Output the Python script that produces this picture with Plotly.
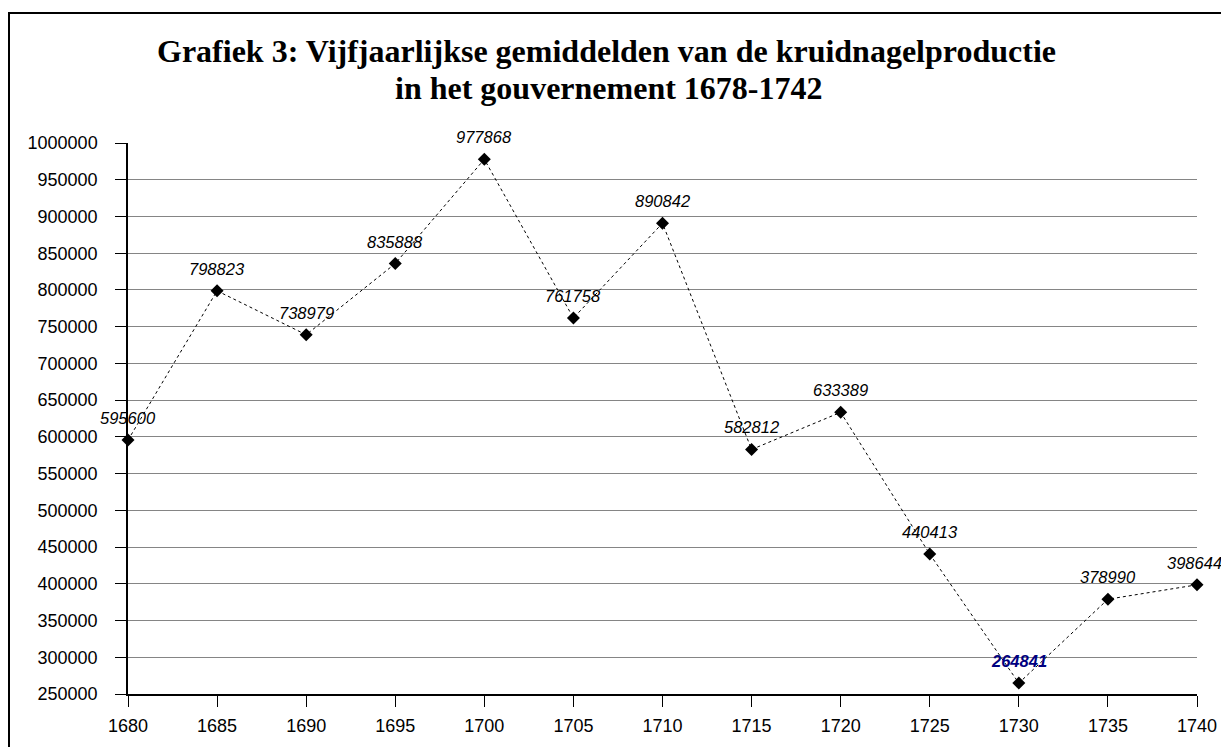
import plotly.graph_objects as go

years = [1680, 1685, 1690, 1695, 1700, 1705, 1710, 1715, 1720, 1725, 1730, 1735, 1740]
production = [595600, 798823, 738979, 835888, 977868, 761758, 890842, 582812, 633389, 440413, 264841, 378990, 398644]
label_colors = ["#000000"] * 10 + ["#000080"] + ["#000000"] * 2
label_bold = [False] * 10 + [True] + [False] * 2
y_ticks = list(range(250000, 1000001, 50000))
x_ticks = list(range(1680, 1741, 5))

title_lines = ["Grafiek 3: Vijfjaarlijkse gemiddelden van de kruidnagelproductie",
               "in het gouvernement 1678-1742"]

# page offset (body margin) is 8px; figure coords = screen - 8
L, T, PW, PH = 120, 135, 1069, 551
W, H = 1221, 739
BOTTOM = T + PH


def px_x(sx):
    return (sx - 8 - L) / PW


def px_y(sy):
    return (BOTTOM - (sy - 8)) / PH


fig = go.Figure()
fig.add_trace(go.Scatter(
    x=years, y=production, mode="lines+markers",
    line=dict(color="black", width=1, dash="3px,3px"),
    marker=dict(symbol="diamond", size=10, color="black"),
    hoverinfo="x+y", showlegend=False, cliponaxis=False,
))

annotations = []
n = len(years)
for i, (xv, yv, c, b) in enumerate(zip(years, production, label_colors, label_bold)):
    txt = f"<i>{yv}</i>"
    if b:
        txt = f"<b>{txt}</b>"
    annotations.append(dict(
        x=xv, y=yv, xref="x", yref="y", text=txt, showarrow=False,
        yshift=22, xshift=-3 if i == n - 1 else 0,
        font=dict(family="Liberation Sans, Arial, sans-serif", size=16.5, color=c),
    ))

for line, sx, sy in zip(title_lines, [606, 609], [51, 88]):
    annotations.append(dict(
        x=px_x(sx), y=px_y(sy), xref="paper", yref="paper", text=f"<b>{line}</b>",
        showarrow=False, xanchor="center", yanchor="middle",
        font=dict(family="Liberation Serif, Times New Roman, serif", size=32, color="black"),
    ))

fig.update_layout(
    width=W, height=H,
    margin=dict(l=L, r=W - L - PW, t=T, b=H - T - PH),
    paper_bgcolor="white", plot_bgcolor="white",
    xaxis=dict(
        range=[1680, 1740], tickmode="array", tickvals=x_ticks,
        ticktext=[str(v) for v in x_ticks],
        showgrid=False, zeroline=False,
        showline=True, linecolor="black", linewidth=1.5,
        ticks="outside", ticklen=11, tickcolor="black", tickwidth=1,
        ticklabelstandoff=4,
        tickfont=dict(family="Liberation Sans, Arial, sans-serif", size=18, color="black"),
    ),
    yaxis=dict(
        range=[250000, 1000000], tickmode="array", tickvals=y_ticks,
        ticktext=[str(v) for v in y_ticks],
        showgrid=True, gridcolor="#858585", gridwidth=1, zeroline=False,
        showline=True, linecolor="black", linewidth=1.5,
        ticks="outside", ticklen=11, tickcolor="black", tickwidth=1,
        ticklabelstandoff=14,
        tickfont=dict(family="Liberation Sans, Arial, sans-serif", size=18, color="black"),
    ),
    annotations=annotations,
    shapes=[dict(
        type="rect", xref="paper", yref="paper",
        x0=px_x(9), x1=px_x(1240),
        y0=px_y(760), y1=px_y(13),
        line=dict(color="black", width=2), fillcolor="rgba(0,0,0,0)", layer="below",
    )],
)

fig.write_html("out.html")
